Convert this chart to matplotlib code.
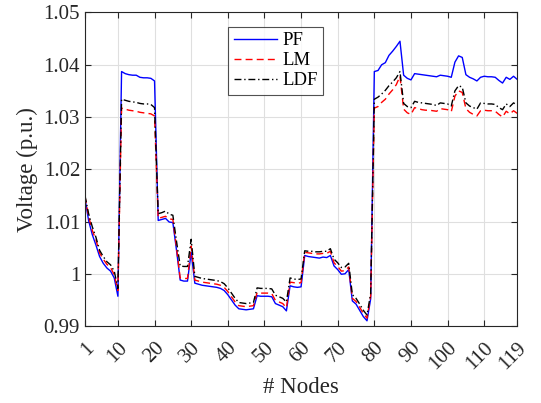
import matplotlib
matplotlib.use("Agg")
import matplotlib.pyplot as plt
import numpy as np

plt.rcParams["font.family"] = ["Liberation Serif", "DejaVu Serif"]
plt.rcParams["mathtext.fontset"] = "stix"

nodes = np.arange(1, 120)

pf = [
    1.0145, 1.0102, 1.0075, 1.0055, 1.0033, 1.0020, 1.0011, 1.0005, 0.9992, 0.9957,
    1.0387, 1.0383, 1.0381, 1.0380, 1.0380, 1.0376, 1.0375, 1.0375, 1.0374, 1.0369,
    1.0102, 1.0104, 1.0106, 1.0099, 1.0098, 1.0045, 0.9988, 0.9986, 0.9986, 1.0041,
    0.9982, 0.9980, 0.9978, 0.9977, 0.9976, 0.9975, 0.9974, 0.9972, 0.9968, 0.9960,
    0.9950, 0.9940, 0.9933, 0.9932, 0.9931, 0.9932, 0.9933, 0.9958, 0.9957, 0.9957,
    0.9957, 0.9956, 0.9943, 0.9940, 0.9937, 0.9929, 0.9977, 0.9975, 0.9974, 0.9975,
    1.0035, 1.0033, 1.0032, 1.0031, 1.0030, 1.0032, 1.0031, 1.0035, 1.0015, 1.0008,
    0.9999, 1.0000, 1.0008, 0.9948, 0.9942, 0.9930, 0.9918, 0.9910, 0.9952, 1.0387,
    1.0389, 1.0400, 1.0404, 1.0418, 1.0426, 1.0435, 1.0445, 1.0380, 1.0374, 1.0371,
    1.0383, 1.0382, 1.0381, 1.0380, 1.0379, 1.0378, 1.0377, 1.0380, 1.0379, 1.0378,
    1.0376, 1.0405, 1.0417, 1.0414, 1.0381, 1.0376, 1.0373, 1.0369, 1.0376, 1.0378,
    1.0377, 1.0377, 1.0376, 1.0370, 1.0365, 1.0376, 1.0372, 1.0378, 1.0372,
]

lm = [
    1.0148, 1.0110, 1.0083, 1.0065, 1.0040, 1.0028, 1.0018, 1.0012, 0.9998, 0.9968,
    1.0317, 1.0315, 1.0313, 1.0312, 1.0311, 1.0309, 1.0308, 1.0307, 1.0306, 1.0302,
    1.0106, 1.0108, 1.0110, 1.0105, 1.0104, 1.0050, 0.9992, 0.9991, 0.9991, 1.0053,
    0.9988, 0.9986, 0.9984, 0.9983, 0.9982, 0.9981, 0.9980, 0.9978, 0.9974, 0.9966,
    0.9956, 0.9946, 0.9939, 0.9938, 0.9937, 0.9938, 0.9939, 0.9964, 0.9963, 0.9963,
    0.9963, 0.9962, 0.9949, 0.9946, 0.9943, 0.9935, 0.9984, 0.9983, 0.9982, 0.9983,
    1.0041, 1.0040, 1.0039, 1.0038, 1.0038, 1.0039, 1.0039, 1.0043, 1.0021, 1.0014,
    1.0005, 1.0006, 1.0013, 0.9953, 0.9947, 0.9936, 0.9924, 0.9915, 0.9957, 1.0317,
    1.0320, 1.0328, 1.0334, 1.0344, 1.0352, 1.0362, 1.0378, 1.0315, 1.0308, 1.0305,
    1.0318, 1.0316, 1.0314, 1.0313, 1.0313, 1.0312, 1.0311, 1.0316, 1.0315, 1.0314,
    1.0310, 1.0340, 1.0350, 1.0347, 1.0316, 1.0309, 1.0305, 1.0302, 1.0312, 1.0313,
    1.0312, 1.0312, 1.0311, 1.0305, 1.0300, 1.0311, 1.0306, 1.0312, 1.0307,
]

ldf = [
    1.0150, 1.0115, 1.0090, 1.0070, 1.0045, 1.0033, 1.0023, 1.0017, 1.0005, 0.9972,
    1.0334, 1.0332, 1.0330, 1.0329, 1.0328, 1.0326, 1.0325, 1.0325, 1.0324, 1.0318,
    1.0115, 1.0117, 1.0120, 1.0114, 1.0112, 1.0062, 1.0015, 1.0014, 1.0014, 1.0066,
    0.9995, 0.9993, 0.9991, 0.9990, 0.9989, 0.9988, 0.9987, 0.9985, 0.9981, 0.9973,
    0.9963, 0.9953, 0.9945, 0.9944, 0.9943, 0.9944, 0.9945, 0.9973, 0.9972, 0.9972,
    0.9972, 0.9971, 0.9959, 0.9956, 0.9953, 0.9946, 0.9992, 0.9990, 0.9989, 0.9990,
    1.0044, 1.0043, 1.0043, 1.0042, 1.0042, 1.0043, 1.0043, 1.0048, 1.0028, 1.0021,
    1.0012, 1.0013, 1.0020, 0.9960, 0.9953, 0.9942, 0.9930, 0.9921, 0.9962, 1.0334,
    1.0338, 1.0344, 1.0351, 1.0360, 1.0367, 1.0375, 1.0387, 1.0326, 1.0320, 1.0318,
    1.0330, 1.0328, 1.0327, 1.0326, 1.0325, 1.0324, 1.0322, 1.0327, 1.0326, 1.0325,
    1.0321, 1.0350, 1.0360, 1.0357, 1.0327, 1.0321, 1.0318, 1.0315, 1.0327, 1.0326,
    1.0325, 1.0325, 1.0324, 1.0318, 1.0314, 1.0325, 1.0320, 1.0327, 1.0323,
]

xticks = [1, 10, 20, 30, 40, 50, 60, 70, 80, 90, 100, 110, 119]
yticks = [0.99, 1.0, 1.01, 1.02, 1.03, 1.04, 1.05]
ytick_labels = ["0.99", "1", "1.01", "1.02", "1.03", "1.04", "1.05"]

fig = plt.figure(figsize=(5.41, 4.03), dpi=100)
ax = fig.add_axes([0.157, 0.191, 0.799, 0.778])

ax.plot(nodes, pf, color="#0000ff", lw=1.0, label="PF")
ax.plot(nodes, lm, color="#ff0000", lw=1.0, ls=(0, (5, 3)), label="LM")
ax.plot(nodes, ldf, color="black", lw=1.0, ls=(0, (5, 2, 1, 2)), label="LDF")

ax.set_xlim(1, 119)
ax.set_ylim(0.99, 1.05)
ax.set_xticks(xticks)
ax.set_xticklabels([str(t) for t in xticks], rotation=45, ha="right", va="top",
                   rotation_mode="anchor")
ax.set_yticks(yticks)
ax.set_yticklabels(ytick_labels)
ax.tick_params(direction="in", top=True, right=True, labelsize=15, length=4,
               width=0.8, colors="#262626")
ax.tick_params(axis="x", pad=9)
ax.grid(True, color="#dfdfdf", lw=0.8)
ax.set_axisbelow(True)
for s in ax.spines.values():
    s.set_color("#262626")
    s.set_linewidth(0.8)

ax.set_xlabel("# Nodes", fontsize=16.5, color="#262626", labelpad=2)
ax.set_ylabel("Voltage (p.u.)", fontsize=16.5, color="#262626", labelpad=4)

leg = ax.legend(loc="upper left", bbox_to_anchor=(0.331, 0.955), fontsize=13.5,
                frameon=True, fancybox=False, edgecolor="#262626", borderpad=0.3,
                labelspacing=0.15, handlelength=2.3, handletextpad=0.3,
                borderaxespad=0)
leg.get_frame().set_linewidth(0.8)

fig.savefig("out.png", dpi=100)
